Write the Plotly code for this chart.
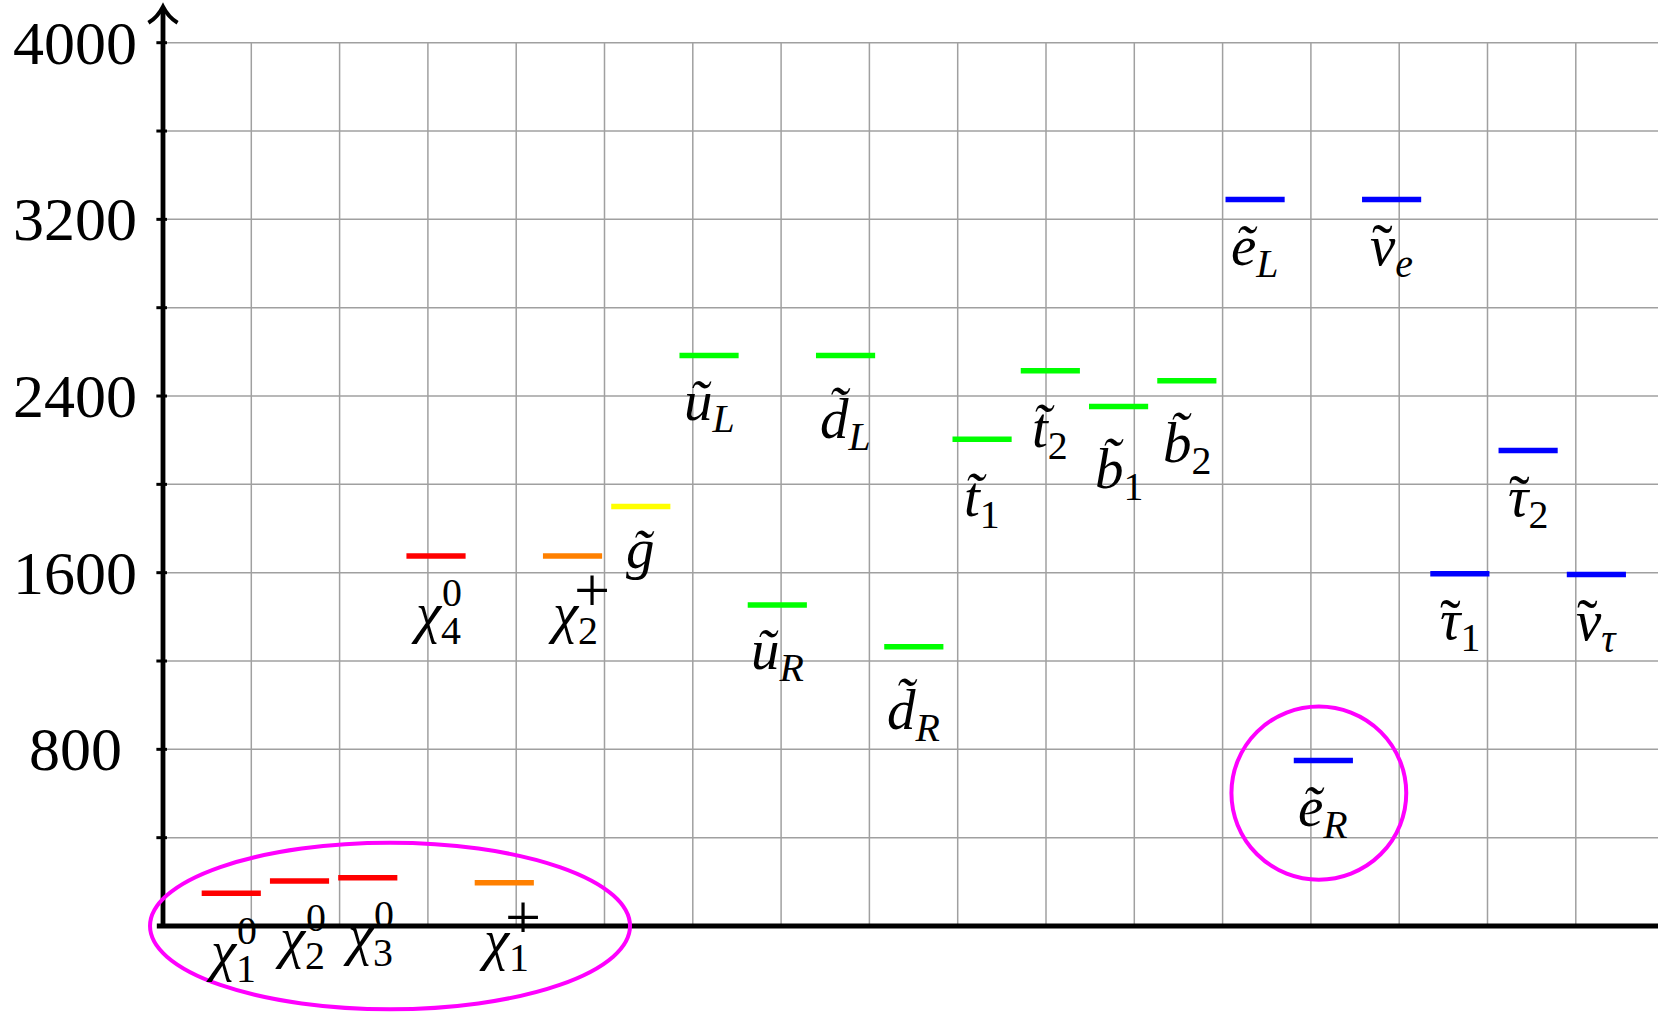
import plotly.graph_objects as go

# Sparticle mass spectrum (GeV), listed left to right
main_glyph = ["χ", "χ", "χ", "χ", "χ", "χ", "g̃", "ũ", "ũ", "d̃", "d̃",
              "t̃", "t̃", "b̃", "b̃", "ẽ", "ẽ", "ν", "τ", "τ", "ν"]
has_tilde_mark = [False] * 17 + [True] * 4   # Greek letters get a separate tilde
sub_glyph = ["1", "2", "3", "4", "1", "2", "", "L", "R", "L", "R",
             "1", "2", "1", "2", "L", "R", "e", "1", "2", "τ"]
sup_glyph = ["0", "0", "0", "0", "+", "+", "", "", "", "", "",
             "", "", "", "", "", "", "", "", "", ""]
masses = [148, 204, 219, 1676, 196, 1676, 1900, 2583, 1454, 2583, 1265,
          2204, 2515, 2352, 2469, 3290, 750, 3290, 1595, 2153, 1592]
family = ["neutralino", "neutralino", "neutralino", "neutralino",
          "chargino", "chargino", "gluino",
          "squark", "squark", "squark", "squark", "squark", "squark", "squark", "squark",
          "slepton", "slepton", "slepton", "slepton", "slepton", "slepton"]

y_ticks = [800, 1600, 2400, 3200, 4000]
y_tick_labels = ["800", "1600", "2400", "3200", "4000"]
grid_rows = list(range(400, 4001, 400))
grid_cols = list(range(1, 17))

family_color = {"neutralino": "#ff0000", "chargino": "#ff8000", "gluino": "#ffff00",
                "squark": "#00ff00", "slepton": "#0000ff"}
# distance (px) from a level down to the baseline of its label
baseline_drop = {"χ": 75, "g̃": 60, "ũ": 63, "d̃": 81, "t̃": 75, "b̃": 80,
                 "ẽ": 64, "ν": 64, "τ": 64}

W, H = 1658, 1013
X0_PX, Y0_PX = 163.0, 926.0
PX_PER_COL = 88.3
PX_PER_GEV = (926.0 - 42.7) / 4000.0

slot_start, slot_step, bar_len = 0.438, 0.773, 0.67
FONT = "Liberation Serif"
LABEL_SIZE = 57
TICK_SIZE = 62
GRID = "#a0a0a0"
MAGENTA = "#ff00ff"


def top_to_base(size):
    return 1 + 0.891 * size


fig = go.Figure()
shapes = []
annotations = []

# background grid
for yv in grid_rows:
    shapes.append(dict(type="line", xref="x", yref="y", x0=0, x1=17.5, y0=yv, y1=yv,
                       line=dict(color=GRID, width=1.5), layer="below"))
for xv in grid_cols:
    shapes.append(dict(type="line", xref="x", yref="y", x0=xv, x1=xv, y0=0, y1=4000,
                       line=dict(color=GRID, width=1.5), layer="below"))

# axes, with an arrow head on the vertical one
shapes.append(dict(type="line", xref="x", yref="y", x0=-0.07, x1=17.5, y0=0, y1=0,
                   line=dict(color="black", width=4.8)))
shapes.append(dict(type="line", xref="x", yref="y", x0=0, x1=0, y0=-8, y1=4150,
                   line=dict(color="black", width=4.8)))
shapes.append(dict(type="path", xref="x", yref="y",
                   path="M -0.165 4090 Q -0.06 4115 0 4163 Q 0.06 4115 0.165 4090",
                   line=dict(color="black", width=4)))
for yv in grid_rows:
    shapes.append(dict(type="line", xref="x", yref="y", x0=-0.075, x1=0.045, y0=yv, y1=yv,
                       line=dict(color="black", width=3)))

for yv, txt in zip(y_ticks, y_tick_labels):
    annotations.append(dict(x=75 / W, y=yv, xref="paper", yref="y", text=txt,
                            showarrow=False, xanchor="center", yanchor="middle",
                            font=dict(family=FONT, size=TICK_SIZE, color="black")))

# mass levels and their labels
for i, m in enumerate(masses):
    x_left = slot_start + slot_step * i
    x_mid = x_left + bar_len / 2
    fig.add_trace(go.Scatter(x=[x_left, x_left + bar_len], y=[m, m], mode="lines",
                             line=dict(color=family_color[family[i]], width=5.5),
                             hoverinfo="skip", showlegend=False))
    sub = sub_glyph[i]
    sub_txt = sub if sub.isdigit() else "<i>%s</i>" % sub
    text = "<i>%s</i>" % main_glyph[i]
    if sub:
        text += "<sub>%s</sub>" % sub_txt
    drop = baseline_drop[main_glyph[i]]
    annotations.append(dict(x=x_mid, y=m, xref="x", yref="y", text=text,
                            showarrow=False, xanchor="center", yanchor="top",
                            yshift=-(drop - top_to_base(LABEL_SIZE)),
                            font=dict(family=FONT, size=LABEL_SIZE, color="black")))
    if has_tilde_mark[i]:
        t_size = 62
        annotations.append(dict(x=x_mid, y=m, xref="x", yref="y", text="˜",
                                showarrow=False, xanchor="center", yanchor="top",
                                xshift=-9, yshift=-(drop + 3 - top_to_base(t_size)),
                                font=dict(family=FONT, size=t_size, color="black")))
    if sup_glyph[i]:
        is_plus = sup_glyph[i] == "+"
        s_size = 64 if is_plus else 0.7 * LABEL_SIZE
        rise = 20 if is_plus else 26
        annotations.append(dict(x=x_mid, y=m, xref="x", yref="y", text=sup_glyph[i],
                                showarrow=False, xanchor="left", yanchor="top",
                                xshift=-1 if is_plus else 4,
                                yshift=-(drop - rise - top_to_base(s_size)),
                                font=dict(family=FONT, size=s_size, color="black")))

# highlighted regions
shapes.append(dict(type="circle", xref="x", yref="y", x0=-0.147, x1=5.289, y0=-377, y1=377,
                   line=dict(color=MAGENTA, width=4)))
shapes.append(dict(type="circle", xref="x", yref="y", x0=12.10, x1=14.08, y0=210, y1=994,
                   line=dict(color=MAGENTA, width=4)))

fig.update_layout(
    width=W, height=H, margin=dict(l=0, r=0, t=0, b=0),
    paper_bgcolor="white", plot_bgcolor="white",
    xaxis=dict(visible=False, range=[-X0_PX / PX_PER_COL, (W - X0_PX) / PX_PER_COL]),
    yaxis=dict(visible=False, range=[-(H - Y0_PX) / PX_PER_GEV, Y0_PX / PX_PER_GEV]),
    shapes=shapes, annotations=annotations,
)
fig.write_html("out.html")
